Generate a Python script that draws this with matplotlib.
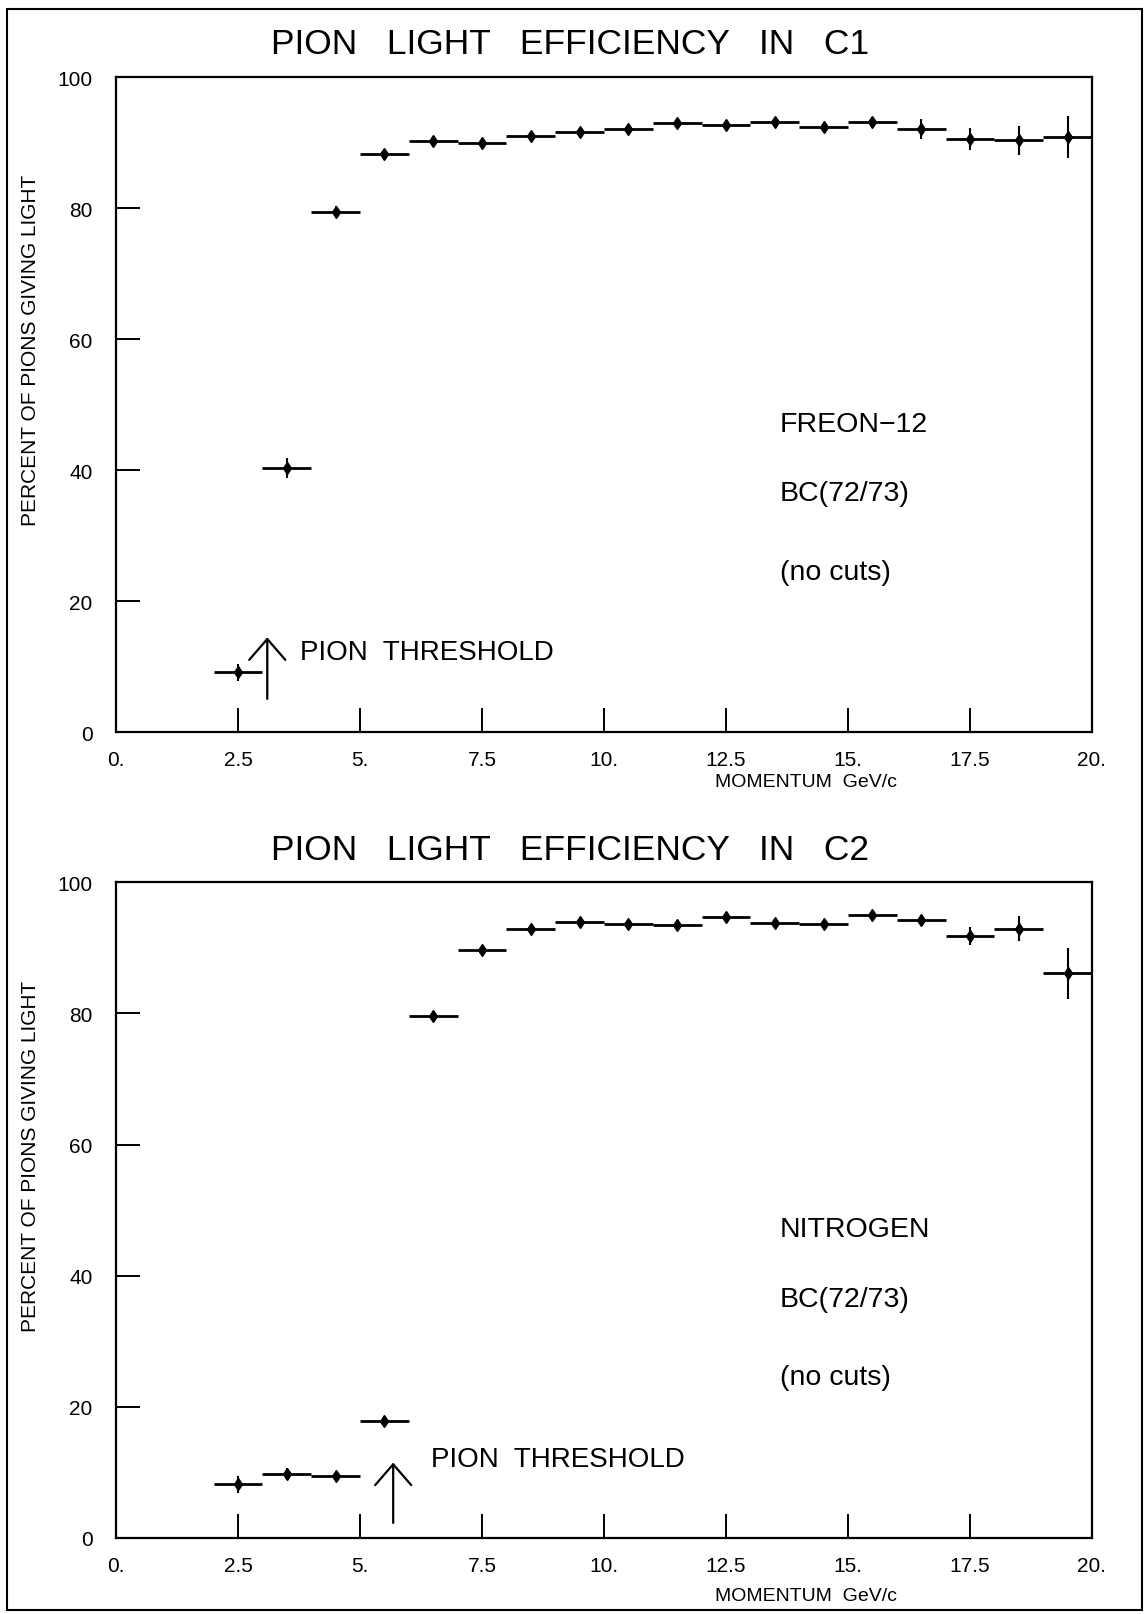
import matplotlib
matplotlib.use("Agg")
import matplotlib.pyplot as plt
import numpy as np

plt.rcParams['font.family'] = ['Liberation Sans', 'DejaVu Sans']

# Momentum bins (GeV/c), 1 GeV wide
bin_centers = [2.5, 3.5, 4.5, 5.5, 6.5, 7.5, 8.5, 9.5, 10.5, 11.5,
               12.5, 13.5, 14.5, 15.5, 16.5, 17.5, 18.5, 19.5]
bin_half_width = 0.5

# C1 counter, Freon-12
c1_eff = [9.2, 40.4, 79.5, 88.3, 90.2, 90.0, 91.1, 91.6, 92.1, 93.0,
          92.7, 93.1, 92.4, 93.2, 92.1, 90.6, 90.4, 90.9]
c1_err = [1.3, 1.5, 0.8, 0.5, 0.4, 0.4, 0.4, 0.4, 0.4, 0.4,
          0.4, 0.5, 0.6, 0.8, 1.5, 1.7, 2.2, 3.2]

# C2 counter, nitrogen
c2_eff = [8.2, 9.7, 9.5, 17.9, 79.6, 89.7, 92.9, 94.0, 93.6, 93.5,
          94.7, 93.8, 93.6, 95.0, 94.2, 91.8, 92.9, 86.1]
c2_err = [1.3, 0.9, 0.6, 0.6, 0.7, 0.6, 0.6, 0.6, 0.5, 0.6,
          0.5, 0.5, 0.5, 0.6, 0.8, 1.4, 1.9, 3.9]

x_ticks = [0, 2.5, 5, 7.5, 10, 12.5, 15, 17.5, 20]
x_ticklabels = ['0.', '2.5', '5.', '7.5', '10.', '12.5', '15.', '17.5', '20.']
y_ticks = [0, 20, 40, 60, 80, 100]
y_ticklabels = ['0', '20', '40', '60', '80', '100']

titles = ['PION   LIGHT   EFFICIENCY   IN   C1',
          'PION   LIGHT   EFFICIENCY   IN   C2']
gas_notes = [['FREON\u221212', 'BC(72/73)', '(no cuts)'],
             ['NITROGEN', 'BC(72/73)', '(no cuts)']]
thresholds = [3.1, 5.68]

W, H = 1147, 1615
fig = plt.figure(figsize=(W / 100, H / 100), dpi=100)

# outer frame around the whole page
fig.add_artist(plt.Rectangle((7 / W, 1 - 1611 / H), (1142 - 7) / W, (1611 - 10) / H,
                             transform=fig.transFigure, fill=False, lw=1.5,
                             edgecolor='k'))

ax_top = fig.add_axes([116 / W, 1 - 733.3 / H, 976 / W, 655 / H])
ax_bot = fig.add_axes([116 / W, 1 - 1539 / H, 976 / W, 655.7 / H])

panels = [
    (ax_top, c1_eff, c1_err, 0, (3.77, 12.3), (5.1, 14.5), 44, 783),
    (ax_bot, c2_eff, c2_err, 1, (6.46, 12.1), (2.3, 11.5), 851, 1597),
]

for ax, eff, err, k, txt_pos, arrow_y, title_y, xlabel_y in panels:
    ax.set_xlim(0, 20)
    ax.set_ylim(0, 100)
    for sp in ax.spines.values():
        sp.set_linewidth(1.6)
    ax.set_xticks(x_ticks)
    ax.set_xticklabels(x_ticklabels)
    ax.set_yticks(y_ticks)
    ax.set_yticklabels(y_ticklabels)
    ax.tick_params(axis='x', direction='in', length=17, width=1.4, pad=13,
                   labelsize=15, top=False)
    ax.tick_params(axis='y', direction='in', length=17, width=1.4, pad=17,
                   labelsize=15, right=False)

    # horizontal bin widths
    ax.errorbar(bin_centers, eff, xerr=bin_half_width, fmt='none',
                ecolor='k', elinewidth=2.0, capsize=0)
    # statistical errors with point markers
    ax.errorbar(bin_centers, eff, yerr=err, fmt='d', color='k', ms=6.5,
                ecolor='k', elinewidth=1.5, capsize=0)

    # threshold arrow and label
    ax.annotate('', xy=(thresholds[k], arrow_y[1]), xytext=(thresholds[k], arrow_y[0]),
                arrowprops=dict(arrowstyle='->,head_length=0.75,head_width=0.65',
                                lw=1.6, color='k', shrinkA=0, shrinkB=0,
                                mutation_scale=20))
    ax.text(txt_pos[0], txt_pos[1], 'PION  THRESHOLD', fontsize=20,
            ha='left', va='center')

    # gas / run notes
    for note, yv in zip(gas_notes[k], [47.1, 36.5, 24.5]):
        ax.text(13.6, yv, note, fontsize=20.5, ha='left', va='center')

    ax.text(-0.088, 0.584, 'PERCENT OF PIONS GIVING LIGHT', transform=ax.transAxes,
            rotation=90, fontsize=15, ha='center', va='center')

    fig.text(570 / W, 1 - title_y / H, titles[k], fontsize=25.5,
             ha='center', va='center')
    fig.text(806 / W, 1 - xlabel_y / H, 'MOMENTUM  GeV/c', fontsize=14,
             ha='center', va='center')

fig.savefig('out.png', dpi=100)
